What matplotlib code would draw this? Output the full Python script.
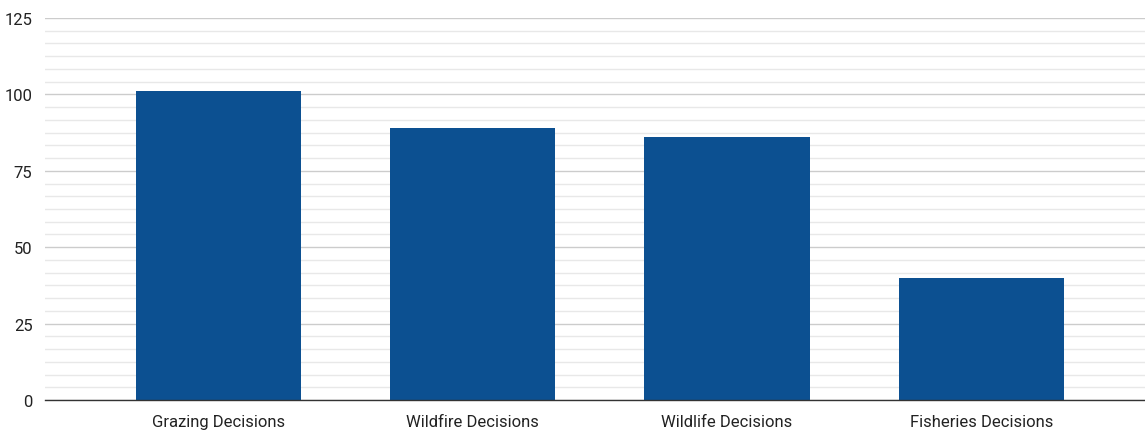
import matplotlib
matplotlib.use("Agg")
import matplotlib.pyplot as plt
import numpy as np

categories = ["Grazing Decisions", "Wildfire Decisions", "Wildlife Decisions", "Fisheries Decisions"]
values = [101, 89, 86, 40]
yticks = [0, 25, 50, 75, 100, 125]

plt.rcParams['font.family'] = ['Roboto', 'DejaVu Sans']

fig = plt.figure(figsize=(11.45, 4.31), dpi=100)
ax = fig.add_axes([45/1145, 1 - 401/431, 1 - 45/1145, (401 - 19)/431])

x = np.arange(len(categories))
ax.bar(x, values, width=0.65, color="#0c5091", zorder=3)

ax.set_ylim(0, 125)
ax.set_xlim(-0.683, 3.644)
ax.set_yticks(yticks)
ax.set_yticklabels([str(t) for t in yticks], fontsize=12, color="#222222")
minor = []
for a in yticks[:-1]:
    for k in range(1, 6):
        minor.append(a + 25 * k / 6)
ax.set_yticks(minor, minor=True)
ax.grid(axis='y', which='major', color="#cccccc", linewidth=1.0, zorder=0)
ax.grid(axis='y', which='minor', color="#e8e8e8", linewidth=1.0, zorder=0)
ax.set_xticks(x)
ax.set_xticklabels(categories, fontsize=12, color="#222222")
ax.tick_params(axis='both', which='both', length=0)
ax.tick_params(axis='y', pad=9)
ax.tick_params(axis='x', pad=10)
for s in ['top', 'right', 'left']:
    ax.spines[s].set_visible(False)
ax.spines['bottom'].set_color("#333333")
ax.spines['bottom'].set_linewidth(1.0)
ax.spines['bottom'].set_zorder(4)

fig.savefig("out.png", dpi=100)
